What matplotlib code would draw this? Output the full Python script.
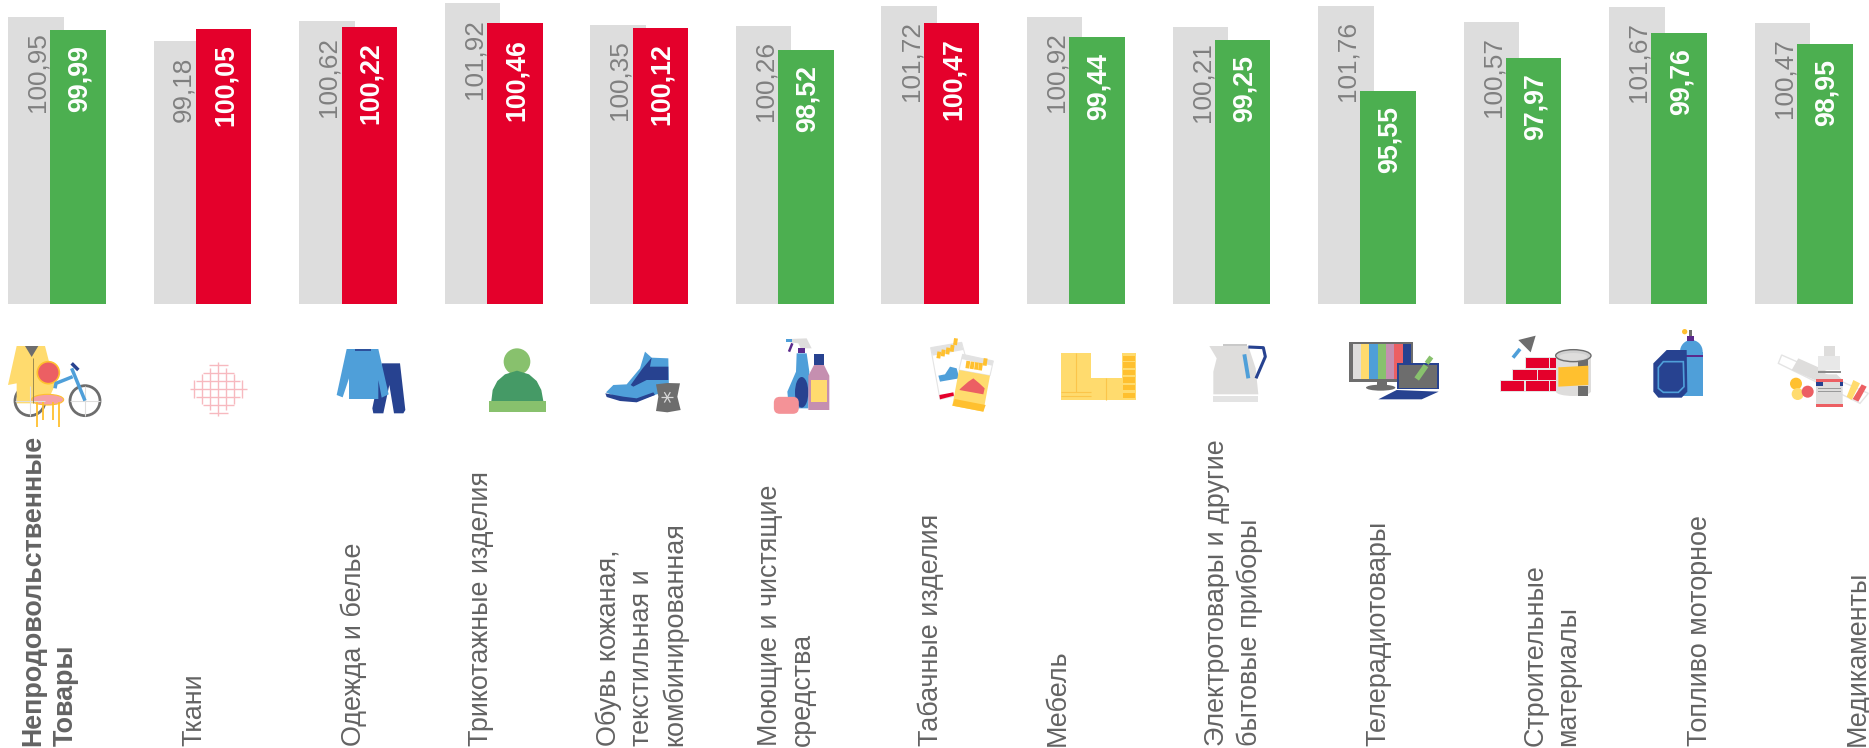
"""Price indices for non-food goods, grouped bars with icons."""

import matplotlib

matplotlib.use("Agg")

import matplotlib.pyplot as plt
import numpy as np
from matplotlib.patches import Circle, Ellipse, FancyBboxPatch, Polygon, Rectangle

plt.rcParams["font.family"] = ["Liberation Sans", "DejaVu Sans"]

categories = [
    "Непродовольственные\nТовары",
    "Ткани",
    "Одежда и белье",
    "Трикотажные изделия",
    "Обувь кожаная,\nтекстильная и\nкомбинированная",
    "Моющие и чистящие\nсредства",
    "Табачные изделия",
    "Мебель",
    "Электротовары и другие\nбытовые приборы",
    "Телерадиотовары",
    "Строительные\nматериалы",
    "Топливо моторное",
    "Медикаменты",
]
previous = [100.95, 99.18, 100.62, 101.92, 100.35, 100.26, 101.72, 100.92, 100.21, 101.76, 100.57, 101.67, 100.47]
current = [99.99, 100.05, 100.22, 100.46, 100.12, 98.52, 100.47, 99.44, 99.25, 95.55, 97.97, 99.76, 98.95]

label_left = [20, 181, 341, 468, 596, 757, 918, 1045, 1204, 1365, 1523, 1687, 1845]

GREY = "#DDDDDD"
GREEN = "#4CAF50"
RED = "#E4002B"
TEXT = "#7F7F7F"
LABEL = "#636363"

YELLOW = "#FFDB6E"
ORANGE = "#FFC02F"
BLUE = "#4F9FD9"
NAVY = "#274290"
LGREEN = "#88C16D"
DGREEN = "#459A66"
CORAL = "#EC5F63"
PINK = "#F5A0A5"
MAUVE = "#C58FB0"
IGREY = "#DEDDDC"
DGREY = "#6D6D6D"
PURPLE = "#5B2A8C"

W, H = 1869, 748
BASE_PX = 304
PITCH = 145.55
BAR_W = 55.5
OFFSET = 42.3

fig = plt.figure(figsize=(W / 100, H / 100), dpi=100, facecolor="white")
ax = fig.add_axes([0, (H - BASE_PX) / H, 1, BASE_PX / H])
x = np.arange(len(categories))
center0 = 57.0
ax.set_xlim(-center0 / PITCH, (W - center0) / PITCH)
ax.set_ylim(80, 102.17)
ax.axis("off")

bw = BAR_W / PITCH
off = OFFSET / PITCH / 2
colors = [RED if v >= 100 else GREEN for v in current]
ax.bar(x - off, previous, width=bw, color=GREY)
ax.bar(x + off, current, width=bw, color=colors)

for i in x:
    ax.annotate(
        f"{previous[i]:.2f}".replace(".", ","),
        (i - off, previous[i]),
        xytext=(1.4, -11),
        textcoords="offset points",
        rotation=90,
        ha="center",
        va="top",
        fontsize=18.8,
        color=TEXT,
    )
    ax.annotate(
        f"{current[i]:.2f}".replace(".", ","),
        (i + off, current[i]),
        xytext=(1.4, -11),
        textcoords="offset points",
        rotation=90,
        ha="center",
        va="top",
        fontsize=19.3,
        fontweight="bold",
        color="white",
    )

# overlay in pixel coordinates for the labels and icons
ov = fig.add_axes([0, 0, 1, 1], facecolor="none")
ov.set_xlim(0, W)
ov.set_ylim(H, 0)
ov.axis("off")

for i, name in enumerate(categories):
    ov.text(
        label_left[i],
        746,
        name,
        rotation=90,
        ha="left",
        va="bottom",
        multialignment="left",
        fontsize=19.4,
        linespacing=1.33,
        color=LABEL,
        fontweight="bold" if i == 0 else "normal",
    )


def make_icon_tools(cx, cy):
    """Return drawing helpers working in 3x crop coordinates."""

    def pt(px, py):
        return cx + px / 3, cy + py / 3

    def rect(x0, y0, x1, y1, color):
        ov.add_patch(Rectangle(pt(x0, y0), (x1 - x0) / 3, (y1 - y0) / 3, fc=color, ec="none"))

    def poly(points, color, **kw):
        ov.add_patch(Polygon([pt(*p) for p in points], closed=True, fc=color, ec=kw.pop("ec", "none"), **kw))

    def circ(px, py, r, color, **kw):
        ov.add_patch(Circle(pt(px, py), r / 3, fc=color, ec=kw.pop("ec", "none"), **kw))

    def oval(px, py, w, h, color, **kw):
        ov.add_patch(Ellipse(pt(px, py), w / 3, h / 3, fc=color, ec=kw.pop("ec", "none"), **kw))

    def line(points, color, lw=1.5):
        xs, ys = zip(*[pt(*p) for p in points])
        ov.plot(xs, ys, color=color, lw=lw, solid_capstyle="butt")

    return rect, poly, circ, oval, line


# first crop: bicycle, coat and chair, then the cloth diamond
rect, poly, circ, oval, line = make_icon_tools(0, 335)
for wx in (90, 255):
    circ(wx, 197, 45, "white", ec=DGREY, lw=2)
    line([(wx - 45, 197), (wx + 45, 197)], IGREY, 0.8)
    line([(wx, 152), (wx, 242)], IGREY, 0.8)
line([(255, 197), (215, 100)], BLUE, 2.5)
line([(165, 160), (168, 145), (218, 125)], BLUE, 2.5)
line([(215, 85), (235, 105)], NAVY, 2.5)
poly([(50, 33), (135, 33), (165, 150), (140, 205), (50, 205), (50, 145), (24, 150)], YELLOW)
poly([(75, 33), (115, 33), (95, 66)], DGREY)
line([(100, 70), (100, 205)], "#9A8A50", 0.7)
circ(145, 113, 33, CORAL, ec=ORANGE, lw=1.2)
for lx, ly in [(110, 275), (178, 275), (130, 255), (158, 255)]:
    line([(lx, 200), (lx, ly)], ORANGE, 1.3)
oval(143, 194, 96, 32, PINK, ec=ORANGE, lw=0.8)

for k in range(-3, 4):
    half = 72 * (1 - abs(k) / 4) + 10
    line([(655 + k * 24, 162 - half), (655 + k * 24, 162 + half)], "#F7B9BF", 1.0)
    half = 75 * (1 - abs(k) / 4) + 10
    line([(655 - half, 162 + k * 24), (655 + half, 162 + k * 24)], "#F7B9BF", 1.0)

# sweater and trousers, hat
rect, poly, circ, oval, line = make_icon_tools(300, 335)
poly([(245, 85), (300, 85), (316, 225), (310, 235), (282, 235), (268, 150), (250, 235), (220, 235), (217, 220)], NAVY)
poly(
    [(140, 42), (235, 42), (266, 178), (245, 188), (235, 135), (235, 192), (147, 192), (147, 130), (128, 187), (110, 180)],
    BLUE,
)
line([(165, 44), (212, 44)], NAVY, 1.2)
circ(651, 80, 40, LGREEN)
poly(
    [(574, 198), (578, 165), (592, 138), (615, 118), (651, 107), (687, 118), (710, 138), (724, 165), (730, 198)],
    DGREEN,
)
rect(566, 198, 737, 232, LGREEN)

# boot, leather patch, detergents
rect, poly, circ, oval, line = make_icon_tools(590, 335)
poly(
    [(48, 172), (70, 150), (110, 148), (150, 100), (165, 50), (185, 68), (235, 70), (237, 170), (200, 178), (150, 195), (100, 195)],
    BLUE,
)
poly([(122, 150), (158, 100), (185, 68), (180, 95), (235, 95), (235, 135), (170, 135), (130, 155)], NAVY)
poly([(46, 175), (100, 185), (140, 190), (190, 172), (195, 180), (140, 202), (90, 198), (50, 186)], NAVY)
poly([(198, 148), (232, 144), (270, 145), (262, 185), (272, 225), (232, 232), (198, 228), (205, 185)], DGREY)
for a in range(3):
    dx, dy = np.cos(a * np.pi / 3) * 18, np.sin(a * np.pi / 3) * 18
    line([(232 - dx, 187 - dy), (232 + dx, 187 + dy)], "#D8D8D8", 0.9)
poly([(620, 55), (650, 55), (658, 110), (655, 220), (597, 220), (592, 170), (618, 110)], BLUE)
oval(635, 172, 40, 92, NAVY)
poly([(600, 12), (650, 10), (665, 40), (632, 40), (625, 25), (600, 22)], IGREY)
rect(625, 40, 645, 54, PURPLE)
line([(607, 25), (597, 50)], PURPLE, 1.8)
rect(589, 11, 607, 22, BLUE)
rect(672, 58, 702, 90, NAVY)
poly([(655, 122), (672, 90), (702, 90), (718, 122), (718, 225), (655, 225)], MAUVE)
rect(662, 135, 711, 200, YELLOW)
ov.add_patch(
    FancyBboxPatch((590 + 556 / 3, 335 + 190 / 3), 66 / 3, 42 / 3, boxstyle="round,pad=1.5,rounding_size=6", fc="#F49297", ec="none")
)

# cigarettes, furniture
rect, poly, circ, oval, line = make_icon_tools(890, 335)
poly([(122, 38), (215, 22), (255, 170), (150, 193)], "white", ec="#E4E4E4", lw=0.8)
poly([(122, 38), (215, 22), (220, 45), (128, 62)], "#E2E2E2")
for bx, by in [(145, 70), (158, 64), (172, 58), (185, 50), (195, 30)]:
    line([(bx, by), (bx + 3, by - 20)], ORANGE, 2.8)
poly([(145, 122), (165, 118), (180, 95), (200, 100), (208, 130), (150, 140)], BLUE)
poly([(148, 180), (190, 172), (192, 182), (150, 193)], RED)
poly([(218, 58), (310, 78), (300, 122), (207, 105)], "white", ec="#E4E4E4", lw=0.8)
poly([(218, 58), (310, 78), (306, 92), (214, 72)], "#E2E2E2")
for bx, by in [(232, 100), (245, 102), (258, 104), (270, 106), (284, 92)]:
    line([(bx, by), (bx + 3, by - 22)], ORANGE, 2.8)
poly([(207, 105), (300, 122), (280, 230), (187, 212)], YELLOW)
poly([(194, 192), (287, 210), (280, 230), (187, 212)], ORANGE)
poly([(212, 160), (235, 140), (250, 130), (268, 145), (284, 160), (280, 178), (208, 165)], CORAL)
rect(513, 55, 603, 195, YELLOW)
rect(603, 130, 695, 195, YELLOW)
rect(695, 55, 738, 195, YELLOW)
for sy in (62, 82, 105, 127, 150, 173):
    rect(699, sy, 734, sy + 16, ORANGE)
line([(558, 55), (558, 170)], "#FBC54A", 0.8)
line([(649, 130), (649, 195)], "#FBC54A", 0.8)
line([(513, 172), (603, 172)], "#FBC54A", 0.8)
line([(513, 184), (603, 184)], "#FBC54A", 0.8)

# kettle, television and laptop
rect, poly, circ, oval, line = make_icon_tools(1190, 335)
line([(175, 36), (220, 38), (226, 65), (198, 130)], NAVY, 2.2)
poly([(58, 33), (175, 33), (197, 100), (205, 178), (70, 178), (70, 110), (80, 70)], IGREY)
rect(98, 28, 172, 34, "#C9C9C9")
rect(68, 182, 203, 200, "#E3E3E3")
line([(163, 58), (175, 130)], BLUE, 2.8)
rect(478, 20, 668, 140, DGREY)
for sx, sc in zip(range(488, 660, 25), [IGREY, YELLOW, BLUE, LGREEN, MAUVE, CORAL, NAVY]):
    rect(sx, 28, sx + 25, 132, sc)
rect(560, 140, 590, 155, DGREY)
oval(572, 158, 88, 18, DGREY)
rect(620, 83, 746, 163, NAVY)
rect(628, 90, 740, 158, DGREY)
poly([(620, 165), (746, 170), (695, 193), (565, 193)], NAVY)
line([(680, 132), (708, 92)], LGREEN, 4)
line([(710, 85), (724, 66)], LGREEN, 3.5)

# bricks and paint, canister and cylinder, medicines
rect, poly, circ, oval, line = make_icon_tools(1490, 325)
for x0, x1, y0 in [(107, 177, 100), (180, 200, 100), (70, 140, 134), (145, 200, 134), (33, 103, 168), (107, 177, 168), (180, 200, 168)]:
    rect(x0 - 3, y0 - 3, x1 + 3, y0 + 33, "#E4E4E4")
    rect(x0, y0, x1, y0 + 30, RED)
poly([(85, 45), (137, 32), (122, 82)], DGREY)
line([(69, 98), (90, 72)], BLUE, 2.6)
rect(198, 92, 302, 200, IGREY)
oval(250, 200, 104, 26, IGREY)
rect(263, 105, 295, 125, DGREY)
rect(263, 182, 295, 212, DGREY)
poly([(205, 127), (295, 122), (295, 180), (205, 185)], ORANGE)
oval(250, 92, 106, 36, "#D0D0D0", ec=DGREY, lw=1)
oval(250, 95, 84, 22, IGREY)

rect(570, 80, 638, 212, BLUE)
oval(604, 80, 68, 70, BLUE)
rect(570, 91, 638, 95, PURPLE)
rect(590, 32, 613, 47, PURPLE)
rect(598, 16, 606, 32, DGREY)
circ(584, 20, 8, ORANGE)
poly([(490, 115), (530, 75), (590, 75), (592, 200), (575, 218), (505, 218), (490, 200)], NAVY)
poly([(505, 128), (520, 110), (580, 110), (582, 185), (565, 202), (520, 202), (505, 190)], NAVY, ec=BLUE, lw=1.2)

poly([(875, 90), (1135, 205), (1110, 235), (865, 115)], "white", ec="#E4E4E4", lw=1)
poly([(925, 100), (1010, 138), (990, 172), (905, 135)], IGREY)
poly([(1090, 165), (1110, 175), (1085, 225), (1070, 215)], YELLOW)
poly([(1115, 178), (1130, 185), (1105, 230), (1088, 222)], CORAL)
circ(918, 176, 18, ORANGE)
circ(923, 207, 18, YELLOW)
circ(953, 200, 18, CORAL)
rect(1002, 62, 1035, 95, IGREY)
rect(985, 92, 1050, 135, "#E8E8E8")
rect(985, 137, 1052, 143, "#8C8C8C")
poly([(978, 165), (995, 148), (1040, 148), (1058, 165), (1058, 240), (978, 240)], IGREY)
rect(978, 162, 1058, 170, CORAL)
rect(978, 170, 1000, 184, NAVY)
rect(1050, 170, 1058, 184, NAVY)
rect(985, 190, 1052, 193, "#9A9A9A")
rect(985, 197, 1052, 200, "#9A9A9A")
rect(978, 238, 1058, 245, CORAL)

fig.savefig("out.png", dpi=100)
